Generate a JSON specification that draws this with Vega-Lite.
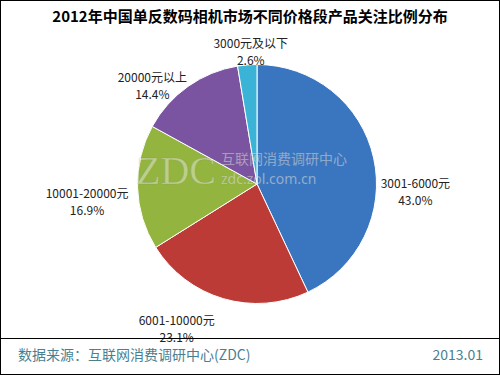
{
  "$schema": "https://vega.github.io/schema/vega-lite/v6.json",
  "width": 500,
  "height": 375,
  "autosize": {"type": "none"},
  "padding": 0,
  "background": "#ffffff",
  "config": {"view": {"stroke": "#000000", "strokeWidth": 2}},
  "datasets": {
    "slices": [
      {"range": "3001-6000元", "share": 43.0, "order": 1},
      {"range": "6001-10000元", "share": 23.1, "order": 2},
      {"range": "10001-20000元", "share": 16.9, "order": 3},
      {"range": "20000元以上", "share": 14.4, "order": 4},
      {"range": "3000元及以下", "share": 2.6, "order": 5}
    ]
  },
  "layer": [
    {
      "data": {"name": "slices"},
      "mark": {"type": "arc", "radius": 119.5, "stroke": "#ffffff", "strokeWidth": 1},
      "encoding": {
        "x": {"value": 257},
        "y": {"value": 184},
        "theta": {"field": "share", "type": "quantitative", "stack": true, "scale": {"domain": [0, 100]}},
        "order": {"field": "order", "type": "quantitative"},
        "color": {
          "field": "range", "type": "nominal", "legend": null,
          "scale": {
            "domain": ["3001-6000元", "6001-10000元", "10001-20000元", "20000元以上", "3000元及以下"],
            "range": ["#3a76c0", "#bd3b36", "#93b43f", "#7a54a0", "#3bb3d6"]
          }
        }
      }
    },
    {
      "data": {"values": [{"t": "ZDC"}]},
      "mark": {"type": "text", "font": "Liberation Serif", "fontSize": 40, "align": "left", "baseline": "alphabetic", "fill": "#ffffff", "fillOpacity": 0.4, "stroke": "#777777", "strokeWidth": 0.6, "strokeOpacity": 0.35},
      "encoding": {"x": {"value": 136}, "y": {"value": 184}, "text": {"field": "t"}}
    },
    {
      "data": {"values": [{"t": "互联网消费调研中心"}]},
      "mark": {"type": "text", "font": "Noto Sans CJK SC", "fontSize": 14, "align": "left", "baseline": "middle", "fill": "#ffffff", "fillOpacity": 0.45, "stroke": "#777777", "strokeWidth": 0.4, "strokeOpacity": 0.3},
      "encoding": {"x": {"value": 221}, "y": {"value": 160}, "text": {"field": "t"}}
    },
    {
      "data": {"values": [{"t": "zdc.zol.com.cn"}]},
      "mark": {"type": "text", "font": "Noto Sans", "fontSize": 14, "align": "left", "baseline": "middle", "fill": "#ffffff", "fillOpacity": 0.45, "stroke": "#777777", "strokeWidth": 0.4, "strokeOpacity": 0.3},
      "encoding": {"x": {"value": 221}, "y": {"value": 180}, "text": {"field": "t"}}
    },
    {
      "data": {"name": "slices"},
      "transform": [
        {"stack": "share", "groupby": [], "sort": [{"field": "order"}], "as": ["s0", "s1"]},
        {"calculate": "(datum.s0 + datum.s1) / 2", "as": "mid"},
        {"calculate": "datum.range + '\\n' + format(datum.share, '.1f') + '%'", "as": "label"},
        {"filter": "datum.order == 1"}
      ],
      "mark": {"type": "text", "radius": 150, "dx": 12, "dy": 33, "font": "Noto Sans CJK SC", "fontSize": 12, "lineHeight": 17, "lineBreak": "\n", "align": "center", "baseline": "middle", "fill": "#222222"},
      "encoding": {"x": {"value": 257}, "y": {"value": 184}, "theta": {"field": "mid", "type": "quantitative", "scale": {"domain": [0, 100]}}, "text": {"field": "label"}}
    },
    {
      "data": {"name": "slices"},
      "transform": [
        {"stack": "share", "groupby": [], "sort": [{"field": "order"}], "as": ["s0", "s1"]},
        {"calculate": "(datum.s0 + datum.s1) / 2", "as": "mid"},
        {"calculate": "datum.range + '\\n' + format(datum.share, '.1f') + '%'", "as": "label"},
        {"filter": "datum.order == 2"}
      ],
      "mark": {"type": "text", "radius": 150, "dx": -38, "dy": -7, "font": "Noto Sans CJK SC", "fontSize": 12, "lineHeight": 17, "lineBreak": "\n", "align": "center", "baseline": "middle", "fill": "#222222"},
      "encoding": {"x": {"value": 257}, "y": {"value": 184}, "theta": {"field": "mid", "type": "quantitative", "scale": {"domain": [0, 100]}}, "text": {"field": "label"}}
    },
    {
      "data": {"name": "slices"},
      "transform": [
        {"stack": "share", "groupby": [], "sort": [{"field": "order"}], "as": ["s0", "s1"]},
        {"calculate": "(datum.s0 + datum.s1) / 2", "as": "mid"},
        {"calculate": "datum.range + '\\n' + format(datum.share, '.1f') + '%'", "as": "label"},
        {"filter": "datum.order == 3"}
      ],
      "mark": {"type": "text", "radius": 150, "dx": -20, "dy": 6, "font": "Noto Sans CJK SC", "fontSize": 12, "lineHeight": 17, "lineBreak": "\n", "align": "center", "baseline": "middle", "fill": "#222222"},
      "encoding": {"x": {"value": 257}, "y": {"value": 184}, "theta": {"field": "mid", "type": "quantitative", "scale": {"domain": [0, 100]}}, "text": {"field": "label"}}
    },
    {
      "data": {"name": "slices"},
      "transform": [
        {"stack": "share", "groupby": [], "sort": [{"field": "order"}], "as": ["s0", "s1"]},
        {"calculate": "(datum.s0 + datum.s1) / 2", "as": "mid"},
        {"calculate": "datum.range + '\\n' + format(datum.share, '.1f') + '%'", "as": "label"},
        {"filter": "datum.order == 4"}
      ],
      "mark": {"type": "text", "radius": 150, "dx": -18, "dy": 16, "font": "Noto Sans CJK SC", "fontSize": 12, "lineHeight": 17, "lineBreak": "\n", "align": "center", "baseline": "middle", "fill": "#222222"},
      "encoding": {"x": {"value": 257}, "y": {"value": 184}, "theta": {"field": "mid", "type": "quantitative", "scale": {"domain": [0, 100]}}, "text": {"field": "label"}}
    },
    {
      "data": {"name": "slices"},
      "transform": [
        {"stack": "share", "groupby": [], "sort": [{"field": "order"}], "as": ["s0", "s1"]},
        {"calculate": "(datum.s0 + datum.s1) / 2", "as": "mid"},
        {"calculate": "datum.range + '\\n' + format(datum.share, '.1f') + '%'", "as": "label"},
        {"filter": "datum.order == 5"}
      ],
      "mark": {"type": "text", "radius": 150, "dx": 6, "dy": 9, "font": "Noto Sans CJK SC", "fontSize": 12, "lineHeight": 17, "lineBreak": "\n", "align": "center", "baseline": "middle", "fill": "#222222"},
      "encoding": {"x": {"value": 257}, "y": {"value": 184}, "theta": {"field": "mid", "type": "quantitative", "scale": {"domain": [0, 100]}}, "text": {"field": "label"}}
    },
    {
      "data": {"values": [{"t": "2012年中国单反数码相机市场不同价格段产品关注比例分布"}]},
      "mark": {"type": "text", "font": "Noto Sans CJK SC", "fontSize": 15, "fontWeight": "bold", "align": "center", "baseline": "middle", "fill": "#000000"},
      "encoding": {"x": {"value": 250}, "y": {"value": 17}, "text": {"field": "t"}}
    },
    {
      "data": {"values": [{"a": 0}]},
      "mark": {"type": "rule", "stroke": "#000000", "strokeWidth": 1},
      "encoding": {"x": {"value": 0}, "x2": {"value": 500}, "y": {"value": 338.5}}
    },
    {
      "data": {"values": [{"t": "数据来源：互联网消费调研中心(ZDC)"}]},
      "mark": {"type": "text", "font": "Noto Sans CJK SC", "fontSize": 14, "align": "left", "baseline": "middle", "fill": "#4a7f91"},
      "encoding": {"x": {"value": 18}, "y": {"value": 356}, "text": {"field": "t"}}
    },
    {
      "data": {"values": [{"t": "2013.01"}]},
      "mark": {"type": "text", "font": "Noto Sans CJK SC", "fontSize": 14, "align": "right", "baseline": "middle", "fill": "#4a7f91"},
      "encoding": {"x": {"value": 483}, "y": {"value": 356}, "text": {"field": "t"}}
    }
  ]
}
